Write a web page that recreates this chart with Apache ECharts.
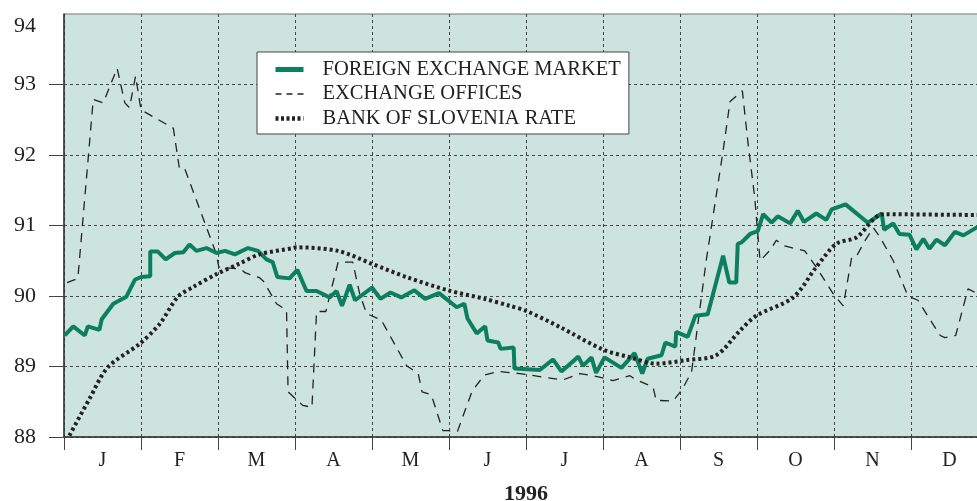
<!DOCTYPE html>
<html>
<head>
<meta charset="utf-8">
<script src="https://cdn.jsdelivr.net/npm/echarts@6/dist/echarts.min.js"></script>
<style>
  html, body { margin: 0; padding: 0; background: #fff; }
  #chart { width: 977px; height: 501px; }
</style>
</head>
<body>
<div id="chart"></div>
<script>
// x = months elapsed since 1 Jan 1996, y = exchange rate
var months = ['J', 'F', 'M', 'A', 'M', 'J', 'J', 'A', 'S', 'O', 'N', 'D'];
var yTicks = [88, 89, 90, 91, 92, 93, 94];

var fxMarket = [
  [0.01,89.44],[0.12,89.57],[0.27,89.44],[0.31,89.57],[0.46,89.52],[0.49,89.67],[0.64,89.89],[0.81,89.99],
  [0.92,90.23],[1.0,90.27],[1.12,90.28],[1.12,90.63],[1.22,90.63],[1.32,90.52],[1.44,90.61],[1.55,90.62],
  [1.63,90.73],[1.72,90.64],[1.85,90.68],[1.98,90.61],[2.09,90.64],[2.22,90.59],[2.39,90.68],[2.52,90.64],
  [2.63,90.52],[2.71,90.48],[2.77,90.27],[2.93,90.25],[3.03,90.37],[3.15,90.07],[3.28,90.07],[3.45,89.98],
  [3.54,90.07],[3.61,89.86],[3.71,90.16],[3.78,89.94],[4.0,90.12],[4.11,89.96],[4.24,90.05],[4.38,89.98],
  [4.55,90.08],[4.69,89.96],[4.87,90.04],[5.10,89.84],[5.20,89.89],[5.24,89.68],[5.36,89.47],[5.47,89.57],
  [5.50,89.37],[5.64,89.34],[5.67,89.25],[5.84,89.27],[5.85,88.97],[6.18,88.95],[6.35,89.10],[6.46,88.93],
  [6.68,89.14],[6.74,89.01],[6.85,89.13],[6.91,88.91],[7.02,89.13],[7.24,88.98],[7.41,89.19],[7.51,88.90],
  [7.58,89.11],[7.76,89.16],[7.81,89.34],[7.94,89.28],[7.95,89.49],[8.10,89.42],[8.20,89.72],[8.36,89.74],
  [8.56,90.57],[8.64,90.19],[8.73,90.19],[8.75,90.74],[8.80,90.76],[8.91,90.88],[9.01,90.92],[9.08,91.16],
  [9.19,91.04],[9.27,91.13],[9.43,91.03],[9.53,91.21],[9.61,91.05],[9.77,91.17],[9.90,91.08],[9.97,91.23],
  [10.15,91.30],[10.44,91.04],[10.62,91.17],[10.65,90.94],[10.77,91.03],[10.85,90.88],[10.98,90.87],[11.07,90.66],
  [11.16,90.81],[11.24,90.67],[11.33,90.80],[11.44,90.72],[11.57,90.91],[11.68,90.86],[11.85,90.97],[12.0,91.03]
];

var exchangeOffices = [
  [0.04,90.19],[0.18,90.25],[0.38,92.79],[0.51,92.74],[0.69,93.23],[0.79,92.74],[0.85,92.67],[0.93,93.12],
  [1.0,92.64],[1.42,92.38],[1.50,91.80],[1.57,91.80],[1.98,90.59],[2.01,90.41],[2.11,90.40],[2.30,90.38],
  [2.35,90.33],[2.54,90.26],[2.59,90.21],[2.76,89.89],[2.89,89.80],[2.91,88.64],[3.10,88.45],[3.22,88.42],
  [3.28,89.78],[3.40,89.78],[3.56,90.48],[3.75,90.48],[3.84,90.03],[3.93,89.75],[4.12,89.66],[4.45,89.01],
  [4.60,88.90],[4.65,88.64],[4.77,88.60],[4.92,88.09],[4.99,88.09],[5.11,88.08],[5.30,88.65],[5.46,88.88],
  [5.64,88.93],[5.92,88.90],[6.22,88.85],[6.48,88.81],[6.70,88.90],[6.91,88.86],[7.13,88.80],[7.35,88.87],
  [7.43,88.81],[7.65,88.71],[7.69,88.52],[7.91,88.51],[8.02,88.66],[8.15,88.92],[8.34,90.50],[8.56,92.06],
  [8.65,92.76],[8.81,92.91],[8.88,92.20],[8.97,91.40],[9.04,90.50],[9.17,90.65],[9.25,90.79],[9.36,90.71],
  [9.62,90.64],[9.77,90.41],[9.99,90.03],[10.12,89.86],[10.23,90.55],[10.29,90.56],[10.40,90.78],[10.51,90.97],
  [10.60,90.83],[10.77,90.50],[10.96,90.00],[11.09,89.94],[11.25,89.66],[11.38,89.44],[11.44,89.41],[11.58,89.44],
  [11.74,90.10],[11.87,90.03],[12.0,90.0]
];

var bankRate = [
  [0.07,88.02],[0.33,88.54],[0.57,88.99],[0.98,89.32],[1.24,89.60],[1.48,89.99],[1.68,90.13],[1.98,90.31],
  [2.28,90.46],[2.54,90.59],[2.97,90.68],[3.02,90.69],[3.56,90.64],[3.99,90.46],[4.47,90.26],[4.99,90.08],
  [5.46,89.96],[5.79,89.86],[6.0,89.79],[6.44,89.56],[7.0,89.24],[7.35,89.13],[7.69,89.04],[8.08,89.09],
  [8.47,89.16],[8.78,89.51],[8.99,89.72],[9.47,89.98],[9.77,90.41],[10.03,90.74],[10.29,90.83],[10.64,91.16],
  [11.85,91.15],[12.0,91.15]
];

var font = 'Liberation Serif';
var gridDash = { color: '#444', width: 1, type: [3, 3] };
var green = '#0b7f5f';

var myChart = echarts.init(document.getElementById('chart'));
myChart.setOption({
  animation: false,
  textStyle: { fontFamily: font },
  grid: {
    left: 64, top: 14, width: 924, bottom: 64,
    outerBoundsMode: 'none', containLabel: false,
    show: true, backgroundColor: '#cde3dd', borderColor: '#777', borderWidth: 1
  },
  legend: {
    data: [
      { name: 'FOREIGN EXCHANGE MARKET', lineStyle: { color: green, width: 5, type: 'solid' } },
      { name: 'EXCHANGE OFFICES', lineStyle: { color: '#222', width: 1.3, type: [6, 5] } },
      { name: 'BANK OF SLOVENIA RATE', lineStyle: { color: '#222', width: 4.5, type: [3, 2.5] } }
    ],
    orient: 'vertical',
    left: 257, top: 52,
    padding: [7, 8, 5, 16],
    itemWidth: 28, itemHeight: 14, itemGap: 3.5,
    itemStyle: { color: 'transparent', borderColor: 'transparent', borderWidth: 0 },
    backgroundColor: '#fff', borderColor: '#444', borderWidth: 1,
    textStyle: { fontFamily: font, fontSize: 20.5, lineHeight: 20, color: '#222', padding: [0, 0, 0, 14] }
  },
  xAxis: [{
    type: 'value', min: 0, max: 12, interval: 1,
    axisLine: { show: false }, axisTick: { show: false }, axisLabel: { show: false },
    splitLine: { show: true, lineStyle: gridDash }
  }, {
    type: 'category', data: months, position: 'bottom', boundaryGap: true,
    axisLine: { show: true, lineStyle: { color: '#333', width: 1.5 } },
    axisTick: { show: true, inside: false, length: 13, interval: 0, lineStyle: { color: '#444' } },
    axisLabel: { fontSize: 20, color: '#222', margin: 14, fontFamily: font },
    name: '1996', nameLocation: 'middle', nameGap: 46,
    nameTextStyle: { fontSize: 22, fontWeight: 'bold', color: '#222', fontFamily: font }
  }],
  yAxis: {
    type: 'value', min: 88, max: 94, interval: 1,
    axisLine: { show: true, lineStyle: { color: '#333', width: 1.5 } },
    axisTick: { show: true, length: 15, lineStyle: { color: '#444' }, customValues: yTicks.slice(0, 6) },
    axisLabel: {
      fontSize: 22, color: '#222', margin: 28, fontFamily: font,
      customValues: yTicks,
      formatter: function (v) { return v === 94 ? '{top|94}' : String(v); },
      rich: { top: { fontSize: 22, color: '#222', fontFamily: font, padding: [24, 0, 0, 0] } }
    },
    splitLine: { show: true, lineStyle: gridDash }
  },
  series: [{
    name: 'EXCHANGE OFFICES', type: 'line', xAxisIndex: 0, data: exchangeOffices,
    showSymbol: false, symbol: 'none',
    lineStyle: { color: '#222', width: 1.3, type: [9, 7] }, itemStyle: { color: '#222' }
  }, {
    name: 'FOREIGN EXCHANGE MARKET', type: 'line', xAxisIndex: 0, data: fxMarket,
    showSymbol: false, symbol: 'none',
    lineStyle: { color: green, width: 4 }, itemStyle: { color: green }
  }, {
    name: 'BANK OF SLOVENIA RATE', type: 'line', xAxisIndex: 0, data: bankRate,
    showSymbol: false, symbol: 'none', smooth: 0.3,
    lineStyle: { color: '#222', width: 4, type: [3, 3] }, itemStyle: { color: '#222' }
  }]
});
</script>
</body>
</html>
